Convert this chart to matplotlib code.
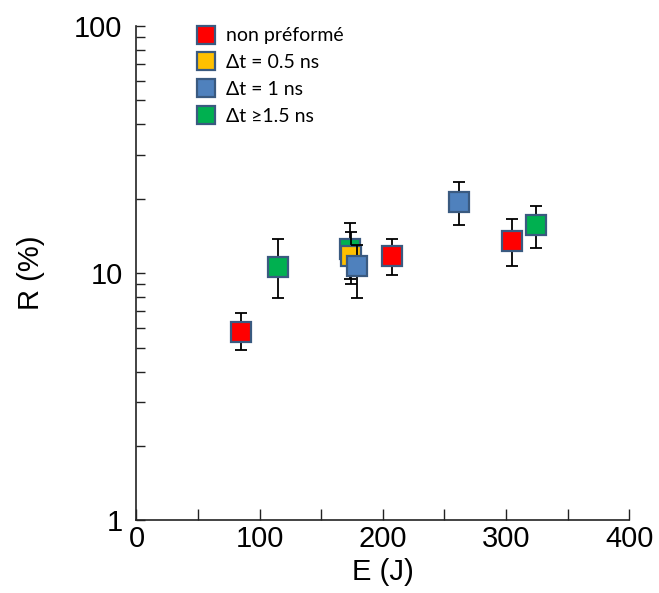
import matplotlib
matplotlib.use("Agg")
import matplotlib.pyplot as plt
from matplotlib.ticker import FixedLocator, NullFormatter, FixedFormatter
import numpy as np

# Data
labels = ["non préformé", "Δt = 0.5 ns", "Δt = 1 ns", "Δt ≥1.5 ns"]
colors = ["#FF0000", "#FFC000", "#4F81BD", "#00B050"]

red_E = [84.6, 207, 305]
red_R = [5.8, 11.7, 13.5]
red_lo = [4.9, 9.8, 10.7]
red_hi = [6.9, 13.7, 16.5]

orange_E = [174]
orange_R = [11.7]
orange_lo = [9.0]
orange_hi = [14.7]

blue_E = [179, 262]
blue_R = [10.7, 19.4]
blue_lo = [7.9, 15.6]
blue_hi = [13.0, 23.4]

green_E = [115, 173.3, 324]
green_R = [10.6, 12.5, 15.6]
green_lo = [7.9, 9.5, 12.6]
green_hi = [13.7, 15.9, 18.6]

x_ticks = [0, 100, 200, 300, 400]
y_ticks = [1, 10, 100]
y_ticklabels = ["1", "10", "100"]

series = [
    (red_E, red_R, red_lo, red_hi, 4),
    (orange_E, orange_R, orange_lo, orange_hi, 3),
    (blue_E, blue_R, blue_lo, blue_hi, 5),
    (green_E, green_R, green_lo, green_hi, 2),
]

fig = plt.figure(figsize=(6.59, 5.93), dpi=100)
ax = fig.add_axes([0.2071, 0.1223, 0.7478, 0.8344])

edge = "#3A5A80"
for (E, R, lo, hi, z), c, lab in zip(series, colors, labels):
    E = np.array(E); R = np.array(R)
    yerr = np.vstack([R - np.array(lo), np.array(hi) - R])
    ax.errorbar(E, R, yerr=yerr, fmt="none", ecolor="black", elinewidth=1.3,
                capsize=4, capthick=1.3, zorder=z)
    ax.plot(E, R, linestyle="none", marker="s", markersize=14,
            markerfacecolor=c, markeredgecolor=edge, markeredgewidth=1.6,
            zorder=z + 0.5, label=lab)

ax.set_yscale("log")
ax.set_xlim(0, 400)
ax.set_ylim(1, 100)

ax.xaxis.set_major_locator(FixedLocator(x_ticks))
ax.xaxis.set_minor_locator(FixedLocator([50, 150, 250, 350]))
ax.yaxis.set_major_locator(FixedLocator(y_ticks))
ax.yaxis.set_major_formatter(FixedFormatter(y_ticklabels))
ax.yaxis.set_minor_locator(FixedLocator([2, 3, 4, 5, 6, 7, 8, 9, 20, 30, 40, 50, 60, 70, 80, 90]))
ax.yaxis.set_minor_formatter(NullFormatter())

for s in ["top", "right"]:
    ax.spines[s].set_visible(False)
for s in ["left", "bottom"]:
    ax.spines[s].set_linewidth(1.2)
    ax.spines[s].set_color("#222222")

ax.tick_params(which="both", direction="in", width=1.0, color="#222222")
ax.tick_params(axis="x", which="both", length=8)
ax.tick_params(axis="y", which="both", length=6.5)
ax.tick_params(axis="x", which="major", labelsize=21, pad=3)
ax.tick_params(axis="y", which="major", labelsize=21, pad=10)
for lab in ax.get_xticklabels() + ax.get_yticklabels():
    lab.set_fontfamily("Liberation Sans")
for lab in ax.get_yticklabels():
    lab.set_verticalalignment("center_baseline")

ax.set_xlabel("E (J)", fontsize=21, family="Liberation Sans", labelpad=4)
ax.set_ylabel("R (%)", fontsize=21, family="Liberation Sans")
ax.yaxis.set_label_coords(-0.186, 0.5)

ax.legend(handles=[plt.Line2D([], [], linestyle="none", marker="s", markersize=13,
                              markerfacecolor=c, markeredgecolor=edge, markeredgewidth=1.6)
                   for c in colors],
          labels=labels, loc="upper left", bbox_to_anchor=(0.085, 1.032),
          frameon=False, handlelength=1.0, handletextpad=0.55, labelspacing=0.5,
          prop={"family": "Lato", "size": 14})

fig.savefig("out.png", dpi=100)
